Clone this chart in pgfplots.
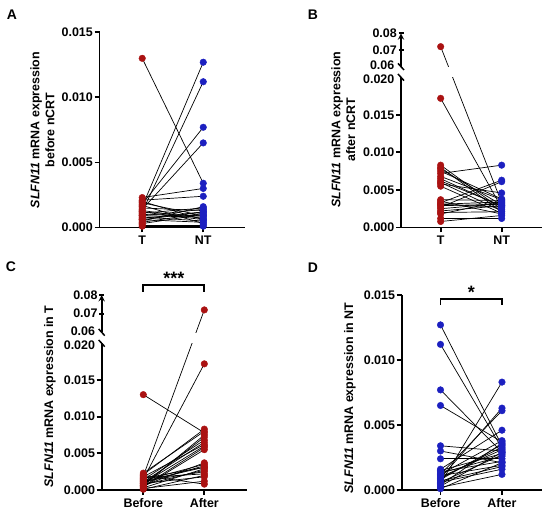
\documentclass[border=0pt]{standalone}
\usepackage{pgfplots}
\pgfplotsset{compat=1.18}
\usepackage{pgfplotstable}
\usepackage{fontspec}
\setmainfont{Liberation Sans}
\definecolor{tred}{RGB}{170,18,18}
\definecolor{tblue}{RGB}{28,32,192}
\newcommand\f{\fontsize{12.5}{15}\selectfont\bfseries}
\newcommand\brktrafo[3]{\begingroup\pgfkeys{/pgf/fpu=true,/pgf/fpu/output format=fixed}\pgfmathparse{#1<0.04 ? #1 : #2+(#1-0.06)*#3}\global\let\brkres\pgfmathresult\endgroup\let\pgfmathresult\brkres}
\pgfplotstableread{
Tb Nb Ta Na
0.0130 0.0034 0.0078 0.0030
0.0016 0.0127 0.0031 0.0034
0.0012 0.0112 0.0025 0.0032
0.0018 0.0077 0.0062 0.0029
0.0014 0.0065 0.0068 0.0037
0.0019 0.0009 0.0720 0.0033
0.0015 0.0013 0.0172 0.0026
0.0008 0.0005 0.0072 0.0083
0.0010 0.0009 0.0033 0.0063
0.0007 0.0012 0.0027 0.0061
0.0023 0.0030 0.0080 0.0021
0.0021 0.0024 0.0083 0.0024
0.0005 0.0016 0.0058 0.0046
0.0011 0.0015 0.0065 0.0028
0.0009 0.0014 0.0060 0.0022
0.0004 0.0011 0.0055 0.0019
0.0006 0.0004 0.0037 0.0036
0.0013 0.0007 0.0035 0.0018
0.0003 0.0010 0.0029 0.0031
0.0017 0.0003 0.0022 0.0029
0.0009 0.0008 0.0018 0.0035
0.0002 0.0002 0.0012 0.0012
0.0020 0.0006 0.0008 0.0016
0.0012 0.0006 0.0031 0.0027
0.0006 0.0012 0.0075 0.0038
0.0001 0.0001 0.0020 0.0021
}\data
\newcommand\pairlines[2]{%
  \pgfplotsforeachungrouped \rowi in {0,...,25}{%
    \pgfplotstablegetelem{\rowi}{#1}\of\data \let\va\pgfplotsretval
    \pgfplotstablegetelem{\rowi}{#2}\of\data \let\vb\pgfplotsretval
    \edef\temp{\noexpand\addplot[pair] coordinates {(0,\va) (1,\vb)};}%
    \temp}}
\tikzset{slash/.style={line width=1.5bp}}
\pgfplotsset{
  gp/.style={
    scale only axis, anchor=south west,
    axis lines=left,
    axis line style={-, line width=1.8bp},
    every tick/.style={black, line width=1.8bp},
    tick align=outside,
    major tick length=5bp,
    scaled y ticks=false, scaled x ticks=false,
    xtick={0,1},
    tick label style={font=\f},
    yticklabel style={inner xsep=1.5bp, inner ysep=0bp},
    xticklabel style={inner sep=3bp},
    clip mode=individual,
  },
  exlow/.style={extra y tick style={major tick length=0bp, yticklabel style={xshift=-5bp, yshift=-1.5bp}}},
  exup/.style={extra y tick style={major tick length=0bp, yticklabel style={xshift=-5bp, yshift=1.5bp}}},
  pair/.style={black, line width=0.7bp, no marks, solid},
  mk/.style={only marks, mark=*, mark size=3.3bp, mark options={solid}},
  brkB/.style={y coord trafo/.code={\brktrafo{##1}{0.021411}{0.2224}}},
  brkC/.style={y coord trafo/.code={\brktrafo{##1}{0.0215}{0.2543}}},
}
\begin{document}
\begin{tikzpicture}
\path[use as bounding box] (0,0) rectangle (550bp,515bp);
% Panel A
\begin{axis}[gp, at={(99.5bp,287.5bp)}, width=145.5bp, height=195.2bp,
  xmin=-0.70, xmax=1.684, ymin=0, ymax=0.015,
  xticklabels={T,NT}, ytick={0,0.005,0.01,0.015}, yticklabels={0.000,0.005,0.010,0.015}]
\pairlines{Tb}{Nb}
\addplot[mk, tred] table[x expr=0, y=Tb]{\data};
\addplot[mk, tblue] table[x expr=1, y=Nb]{\data};
\end{axis}
% Panel B lower
\begin{axis}[gp, brkB, exlow, at={(401bp,287.5bp)}, width=140.7bp, height=150.2bp,
  xmin=-0.65, xmax=1.656, ymin=0, ymax=0.02,
  xticklabels={T,NT}, ytick={0,0.005,0.01,0.015}, yticklabels={0.000,0.005,0.010,0.015},
  extra y ticks={0.02}, extra y tick labels={0.020}]
\pairlines{Ta}{Na}
\addplot[mk, tred] table[x expr=0, y=Ta]{\data};
\addplot[mk, tblue] table[x expr=1, y=Na]{\data};
\draw[slash] ([xshift=-3bp,yshift=3.3bp]rel axis cs:0,1) -- ([xshift=3bp,yshift=-3.3bp]rel axis cs:0,1);
\end{axis}
% Panel B upper
\begin{axis}[gp, brkB, exup, at={(401bp,448.3bp)}, width=140.7bp, height=33.4bp,
  axis x line=none, axis y line=left, xtick=\empty, clip marker paths=true,
  xmin=-0.65, xmax=1.656, ymin=0.06, ymax=0.08,
  ytick={0.07,0.08}, yticklabels={0.07,0.08},
  extra y ticks={0.06}, extra y tick labels={0.06}]
\pairlines{Ta}{Na}
\addplot[mk, tred] table[x expr=0, y=Ta]{\data};
\addplot[mk, tblue] table[x expr=1, y=Na]{\data};
\draw[slash] ([xshift=-3bp,yshift=3.3bp]rel axis cs:0,0) -- ([xshift=3bp,yshift=-3.3bp]rel axis cs:0,0);
\end{axis}
% Panel C lower
\begin{axis}[gp, brkC, exlow, at={(101.7bp,25bp)}, width=145bp, height=146.7bp,
  xmin=-0.682, xmax=1.695, ymin=0, ymax=0.02,
  xticklabels={Before,After}, ytick={0,0.005,0.01,0.015}, yticklabels={0.000,0.005,0.010,0.015},
  extra y ticks={0.02}, extra y tick labels={0.020}]
\pairlines{Tb}{Ta}
\addplot[mk, tred] table[x expr=0, y=Tb]{\data};
\addplot[mk, tred] table[x expr=1, y=Ta]{\data};
\draw[slash] ([xshift=-3bp,yshift=3.3bp]rel axis cs:0,1) -- ([xshift=3bp,yshift=-3.3bp]rel axis cs:0,1);
\end{axis}
% Panel C upper
\begin{axis}[gp, brkC, exup, at={(101.7bp,182.7bp)}, width=145bp, height=37.3bp,
  axis x line=none, axis y line=left, xtick=\empty, clip marker paths=true,
  xmin=-0.682, xmax=1.695, ymin=0.06, ymax=0.08,
  ytick={0.07,0.08}, yticklabels={0.07,0.08},
  extra y ticks={0.06}, extra y tick labels={0.06}]
\pairlines{Tb}{Ta}
\addplot[mk, tred] table[x expr=0, y=Tb]{\data};
\addplot[mk, tred] table[x expr=1, y=Ta]{\data};
\draw[slash] ([xshift=-3bp,yshift=3.3bp]rel axis cs:0,0) -- ([xshift=3bp,yshift=-3.3bp]rel axis cs:0,0);
\coordinate (b0) at (axis cs:0,0.07);
\coordinate (b1) at (axis cs:1,0.07);
\coordinate (bm) at (axis cs:0.5,0.07);
\coordinate (bt) at (rel axis cs:0,1);
\draw[line width=1.8bp] ([yshift=3.3bp]b0 |- bt) -- ([yshift=10bp]b0 |- bt) -- ([yshift=10bp]b1 |- bt) -- ([yshift=3.3bp]b1 |- bt);
\node[font=\fontsize{18}{18}\selectfont\bfseries, anchor=base, inner sep=0pt] at ([yshift=10.5bp]bm |- bt) {***};
\end{axis}
% Panel D
\begin{axis}[gp, at={(401.7bp,25bp)}, width=140bp, height=195bp,
  xmin=-0.631, xmax=1.646, ymin=0, ymax=0.015,
  xticklabels={Before,After}, ytick={0,0.005,0.01,0.015}, yticklabels={0.000,0.005,0.010,0.015}]
\pairlines{Nb}{Na}
\addplot[mk, tblue] table[x expr=0, y=Nb]{\data};
\addplot[mk, tblue] table[x expr=1, y=Na]{\data};
\draw[line width=1.8bp] (axis cs:0,0.01423) -- (axis cs:0,0.01469) -- (axis cs:1,0.01469) -- (axis cs:1,0.01423);
\node[font=\fontsize{18}{18}\selectfont\bfseries, anchor=base, inner sep=0pt] at ([yshift=0.5bp]axis cs:0.5,0.01469) {*};
\end{axis}
% y labels
\node[rotate=90, align=center, font=\f] at (42.5bp,385bp) {\textit{SLFN11} mRNA expression\\before nCRT};
\node[rotate=90, align=center, font=\f] at (343.3bp,385.5bp) {\textit{SLFN11} mRNA expression\\after nCRT};
\node[rotate=90, font=\f] at (50bp,118.5bp) {\textit{SLFN11} mRNA expression in T};
\node[rotate=90, font=\f] at (350bp,117bp) {\textit{SLFN11} mRNA expression in NT};
% panel letters
\node[font=\fontsize{14}{16}\selectfont\bfseries] at (12bp,500bp) {A};
\node[font=\fontsize{14}{16}\selectfont\bfseries] at (313bp,500bp) {B};
\node[font=\fontsize{14}{16}\selectfont\bfseries] at (11bp,248bp) {C};
\node[font=\fontsize{14}{16}\selectfont\bfseries] at (313bp,247bp) {D};
\end{tikzpicture}
\end{document}
